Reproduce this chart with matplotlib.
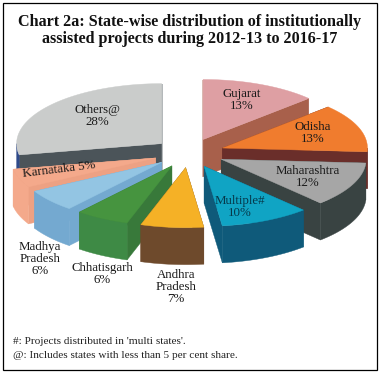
import numpy as np
import matplotlib
matplotlib.use('Agg')
import matplotlib.pyplot as plt
from matplotlib.patches import Polygon, Rectangle

# shares in per cent, clockwise from 12 o'clock
states = ['Gujarat', 'Odisha', 'Maharashtra', 'Multiple#', 'Andhra Pradesh',
          'Chhatisgarh', 'Madhya Pradesh', 'Karnataka', 'Others@']
shares = [13, 13, 12, 10, 7, 6, 6, 5, 28]
top_colors = ['#DE9FA3', '#F07C2E', '#A6A6A6', '#10A4C4', '#F5B126',
              '#46943F', '#93C5E3', '#F4A98B', '#CACCCB']
side_colors = ['#A8604B', '#6A2E2A', '#394342', '#0F5A7A', '#6E4A2C',
               '#38793A', '#74A9D0', '#EDA183', '#4B5459']
wall_colors = ['#A8604B', '#6A2E2A', '#394342', '#0F5A7A', '#6E4A2C',
               '#3E8A45', '#74A9D0', '#F4A98B', '#2F4A8A']
draw_order = [8, 0, 1, 7, 2, 6, 5, 3, 4]

title = 'Chart 2a: State-wise distribution of institutionally\nassisted projects during 2012-13 to 2016-17'
notes = ["#: Projects distributed in 'multi states'.",
         '@: Includes states with less than 5 per cent share.']

# pie geometry, in pixels of the image
cx, cy = 189, 153
rx, ry = 145, 60
depth = 37
explode = 0.245


def ellipse_xy(x0, y0, theta):
    t = np.radians(theta)
    return x0 + rx * np.sin(t), y0 - ry * np.cos(t)


fig = plt.figure(figsize=(3.8, 3.73), dpi=100)
ax = fig.add_axes([0, 0, 1, 1])
ax.set_xlim(0, 380)
ax.set_ylim(373, 0)
ax.axis('off')
plt.rcParams['font.family'] = ['Liberation Serif', 'DejaVu Serif']

edges = np.cumsum([0] + shares) * 3.6


def add_poly(xs, ys, color, z):
    ax.add_patch(Polygon(np.column_stack([xs, ys]), closed=True, facecolor=color,
                         edgecolor=color, lw=0.3, zorder=z))


for z, i in enumerate(draw_order):
    start, end = edges[i], edges[i + 1]
    mid = (start + end) / 2
    ax0, ay0 = cx + explode * rx * np.sin(np.radians(mid)), cy - explode * ry * np.cos(np.radians(mid))

    # the two cut faces
    for a in (start, end):
        ex, ey = ellipse_xy(ax0, ay0, a)
        add_poly([ax0, ex, ex, ax0], [ay0, ey, ey + depth, ay0 + depth], side_colors[i], z)

    # outer wall, only the part facing the viewer
    lo, hi = max(start, 90), min(end, 270)
    if hi > lo:
        th = np.linspace(lo, hi, 40)
        wx, wy = ellipse_xy(ax0, ay0, th)
        add_poly(np.r_[wx, wx[::-1]], np.r_[wy, wy[::-1] + depth], wall_colors[i], z)

    # top surface
    th = np.linspace(start, end, 60)
    tx, ty = ellipse_xy(ax0, ay0, th)
    add_poly(np.r_[ax0, tx], np.r_[ay0, ty], top_colors[i], z)

lab = dict(ha='center', va='center', fontsize=9.3, color='#1a1a1a', linespacing=1.05, zorder=20)
ax.text(242, 100, 'Gujarat\n13%', **lab)
ax.text(313, 133, 'Odisha\n13%', **lab)
ax.text(308, 177, 'Maharashtra\n12%', **lab)
ax.text(240, 207, 'Multiple#\n10%', **{**lab, 'color': '#06384a'})
ax.text(97, 116, 'Others@\n28%', **lab)
ax.text(59, 170, 'Karnataka 5%', rotation=7, **lab)
ax.text(40, 259, 'Madhya\nPradesh\n6%', **lab)
ax.text(102, 274, 'Chhatisgarh\n6%', **lab)
ax.text(176, 287, 'Andhra\nPradesh\n7%', **lab)

ax.text(190, 30.5, title, ha='center', va='center', fontsize=11.6, fontweight='bold',
        color='#111111', linespacing=1.15)
ax.text(13, 342, notes[0], ha='left', va='center', fontsize=8.1, color='#222222')
ax.text(13, 355, notes[1], ha='left', va='center', fontsize=8.1, color='#222222')

ax.add_patch(Rectangle((2.5, 2.5), 374.5, 367.5, fill=False, edgecolor='black', lw=0.9, zorder=30))

fig.savefig('out.png', dpi=100)
